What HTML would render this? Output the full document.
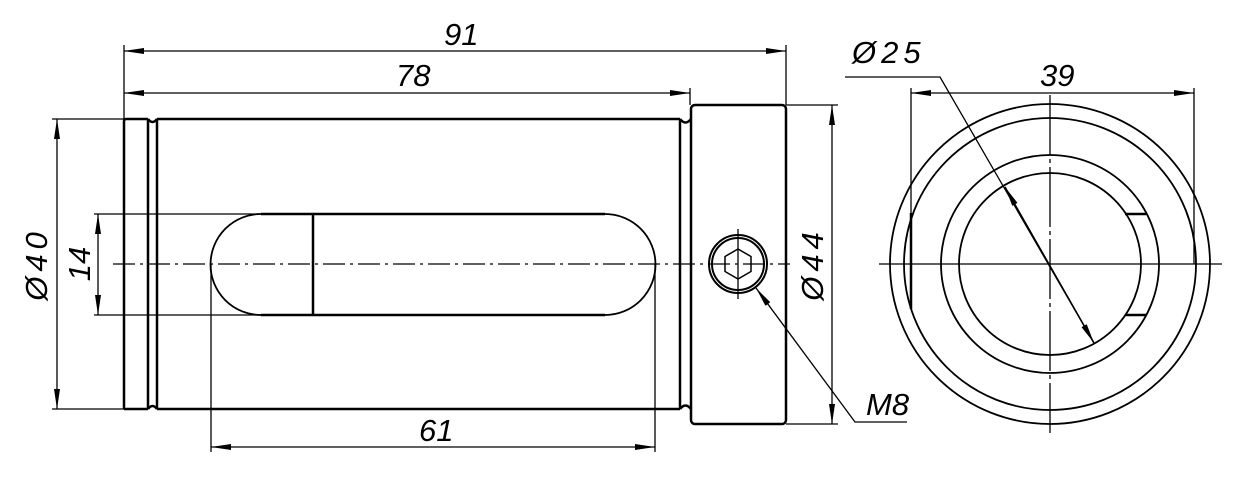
<!DOCTYPE html>
<html><head><meta charset="utf-8"><style>
html,body{margin:0;padding:0;background:#fff;}
svg{display:block}
text{font-family:"Liberation Sans",sans-serif;font-style:italic;font-size:31px;fill:#000;}
.sp{letter-spacing:5px}
</style></head><body>
<svg width="1254" height="489" viewBox="0 0 1254 489" xmlns="http://www.w3.org/2000/svg">
<defs>
<marker id="a" viewBox="0 0 20 6" refX="20" refY="3" markerWidth="20" markerHeight="6" markerUnits="userSpaceOnUse" orient="auto-start-reverse"><path d="M0,0 L20,3 L0,6 z" fill="#000"/></marker>
</defs>
<g fill="none" stroke="#000">
<g stroke-width="2.5">
<path d="M124,409 V121 Q124,119 126,119 H148 M157,119 H680 M680,119 V409 M157,409 H680 M124,409 H148"/>
<line x1="148" y1="119" x2="148" y2="409"/><line x1="157" y1="119" x2="157" y2="409"/>
<path d="M148,119 q4.5,6 9,0 M148,409 q4.5,-6 9,0"/>
<path d="M680,119 q5.5,7 11,0 M680,409 q5.5,-7 11,0"/>
<rect x="691" y="105" width="95" height="319" rx="4"/>
<path d="M261,214 H605 M261,315 H605"/>
<line x1="313" y1="214" x2="313" y2="315"/>
</g>
<path d="M261,214 A50.5,50.5 0 0 0 261,315 M605,214 A50.5,50.5 0 0 1 605,315" stroke-width="1.8"/>
<circle cx="738" cy="264" r="29" stroke-width="2"/>
<circle cx="738" cy="264" r="26" stroke-width="2"/>
<polygon points="738,249 751,256.5 751,271.5 738,279 725,271.5 725,256.5" stroke-width="1.5"/>
<line x1="738" y1="229" x2="738" y2="299" stroke-width="1.3"/>
<line x1="113" y1="264" x2="790" y2="264" stroke-width="1.3" stroke-dasharray="22,5,3,5"/>
<g stroke-width="1.3">
<line x1="124" y1="45" x2="124" y2="119"/><line x1="786" y1="45" x2="786" y2="105"/>
<line x1="124" y1="51" x2="786" y2="51" marker-start="url(#a)" marker-end="url(#a)"/>
<line x1="690" y1="88" x2="690" y2="105"/>
<line x1="124" y1="93" x2="690" y2="93" marker-start="url(#a)" marker-end="url(#a)"/>
<line x1="52" y1="119" x2="124" y2="119"/><line x1="52" y1="409" x2="124" y2="409"/>
<line x1="57" y1="119" x2="57" y2="409" marker-start="url(#a)" marker-end="url(#a)"/>
<line x1="94" y1="214" x2="261" y2="214"/><line x1="94" y1="315" x2="261" y2="315"/>
<line x1="98" y1="214" x2="98" y2="315" marker-start="url(#a)" marker-end="url(#a)"/>
<line x1="211" y1="264" x2="211" y2="452"/><line x1="655" y1="264" x2="655" y2="452"/>
<line x1="211" y1="447" x2="655" y2="447" marker-start="url(#a)" marker-end="url(#a)"/>
<line x1="786" y1="105" x2="838" y2="105"/><line x1="786" y1="424" x2="838" y2="424"/>
<line x1="832" y1="105" x2="832" y2="424" marker-start="url(#a)" marker-end="url(#a)"/>
<polyline points="907,422 855,422 756,288" marker-end="url(#a)"/>
</g>
<g stroke-width="1.8">
<circle cx="1050" cy="264" r="160"/>
<circle cx="1050" cy="264" r="146"/>
<circle cx="1050" cy="264" r="109"/>
<circle cx="1050" cy="264" r="91"/>
</g>
<g stroke-width="2.5">
<line x1="911" y1="213" x2="911" y2="309"/>
<line x1="1125" y1="214" x2="1146" y2="214"/><line x1="1125" y1="315" x2="1146" y2="315"/>
</g>
<g stroke-width="1.3">
<line x1="879" y1="264" x2="1222" y2="264"/>
<line x1="1050" y1="95" x2="1050" y2="433" stroke-dasharray="60,4,4,4"/>
<line x1="911" y1="88" x2="911" y2="213"/><line x1="1194" y1="88" x2="1194" y2="264"/>
<line x1="911" y1="93" x2="1194" y2="93" marker-start="url(#a)" marker-end="url(#a)"/>
<polyline points="845,77 940,77 1094,343" />
<line x1="1094" y1="343" x2="1005" y2="187" marker-end="url(#a)"/>
<line x1="1005" y1="187" x2="1094" y2="343" marker-end="url(#a)"/>
</g>
</g>
<text x="444" y="45">91</text>
<text x="396" y="86">78</text>
<text x="419" y="441">61</text>
<text x="866" y="415">M8</text>
<text x="852" y="63" class="sp">Ø25</text>
<text x="1040" y="86">39</text>
<text transform="translate(47,264) rotate(-90)" text-anchor="middle" class="sp">Ø40</text>
<text transform="translate(90,264) rotate(-90)" text-anchor="middle">14</text>
<text transform="translate(823,264) rotate(-90)" text-anchor="middle" class="sp">Ø44</text>
</svg>
</body></html>
